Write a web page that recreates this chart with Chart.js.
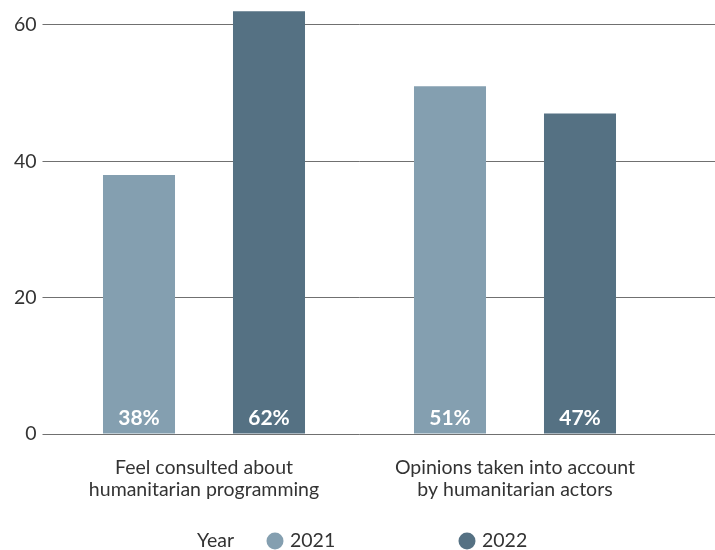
<!DOCTYPE html>
<html>
<head>
<meta charset="utf-8">
<script src="https://cdn.jsdelivr.net/npm/chart.js@4/dist/chart.umd.min.js"></script>
<style>
  html, body { margin: 0; padding: 0; background: #fff; }
  #wrap { width: 715px; height: 550px; position: relative; }
</style>
</head>
<body>
<div id="wrap"><canvas id="c"></canvas></div>
<script>
// Survey results by year
const categories = [
  ["Feel consulted about", "humanitarian programming"],
  ["Opinions taken into account", "by humanitarian actors"]
];
const years = ["2021", "2022"];
const values2021 = [38, 51];
const values2022 = [62, 47];
const yTicks = [0, 20, 40, 60];
const legendTitle = "Year";

const FONT = "Lato, 'Open Sans', sans-serif";
const TEXT = "#333333";
const GRID = "#707070";
const seriesColors = ["#849fb0", "#557183"];

// Horizontal grid lines run on to the right edge of the canvas
const extendGrid = {
  id: "extendGrid",
  beforeDatasetsDraw(chart) {
    const { ctx, chartArea, scales } = chart;
    ctx.save();
    ctx.strokeStyle = GRID;
    ctx.lineWidth = 1;
    yTicks.forEach(v => {
      const y = Math.round(scales.y.getPixelForValue(v) - 0.5) + 0.5;
      ctx.beginPath();
      ctx.moveTo(chartArea.right - 1, y);
      ctx.lineTo(chart.width, y);
      ctx.stroke();
    });
    ctx.restore();
  }
};

// Percentage written inside the foot of every bar
const barValues = {
  id: "barValues",
  afterDatasetsDraw(chart) {
    const { ctx, chartArea } = chart;
    ctx.save();
    ctx.fillStyle = "#ffffff";
    ctx.font = "bold 21px " + FONT;
    ctx.textAlign = "center";
    ctx.textBaseline = "middle";
    chart.data.datasets.forEach((ds, i) => {
      chart.getDatasetMeta(i).data.forEach((bar, j) => {
        ctx.fillText(ds.data[j] + "%", bar.x, chartArea.bottom - 16);
      });
    });
    ctx.restore();
  }
};

// "Year" legend row along the bottom
const yearLegend = {
  id: "yearLegend",
  afterDraw(chart) {
    const { ctx } = chart;
    const y = 541;
    ctx.save();
    ctx.font = "19.5px " + FONT;
    ctx.textBaseline = "middle";
    ctx.textAlign = "left";
    ctx.fillStyle = TEXT;
    ctx.fillText(legendTitle, 197, y);
    const spots = [275, 467];
    chart.data.datasets.forEach((ds, i) => {
      ctx.fillStyle = ds.backgroundColor;
      ctx.beginPath();
      ctx.arc(spots[i], y, 8.5, 0, Math.PI * 2);
      ctx.fill();
      ctx.fillStyle = TEXT;
      ctx.fillText(ds.label, spots[i] + 15, y);
    });
    ctx.restore();
  }
};

new Chart(document.getElementById("c"), {
  type: "bar",
  data: {
    labels: categories,
    datasets: [
      { label: years[0], data: values2021, backgroundColor: seriesColors[0] },
      { label: years[1], data: values2022, backgroundColor: seriesColors[1] }
    ]
  },
  options: {
    responsive: true,
    maintainAspectRatio: false,
    animation: false,
    devicePixelRatio: 1,
    layout: { padding: { top: 1, right: 44.5, bottom: 50, left: 0 } },
    datasets: {
      bar: { barPercentage: 0.554, categoryPercentage: 0.836 }
    },
    scales: {
      x: {
        grid: { display: false, drawTicks: false },
        border: { display: false },
        ticks: {
          color: TEXT,
          font: { family: FONT, size: 19.5, lineHeight: 1.16 },
          padding: 22,
          autoSkip: false,
          maxRotation: 0
        },
        afterFit(s) { s.height = 66; s.paddingLeft = 0; s.paddingRight = 0; }
      },
      y: {
        min: 0,
        max: 63.5,
        grid: { color: GRID, lineWidth: 1, tickLength: 6 },
        border: { display: false },
        ticks: {
          stepSize: 20,
          includeBounds: false,
          color: TEXT,
          font: { family: FONT, size: 19.5 },
          padding: 6
        },
        afterBuildTicks(s) { s.ticks = yTicks.map(v => ({ value: v })); },
        afterFit(s) { s.width = 48.5; s.paddingTop = 0; s.paddingBottom = 0; }
      }
    },
    plugins: {
      legend: { display: false },
      tooltip: { enabled: false }
    }
  },
  plugins: [extendGrid, barValues, yearLegend]
});
</script>
</body>
</html>
